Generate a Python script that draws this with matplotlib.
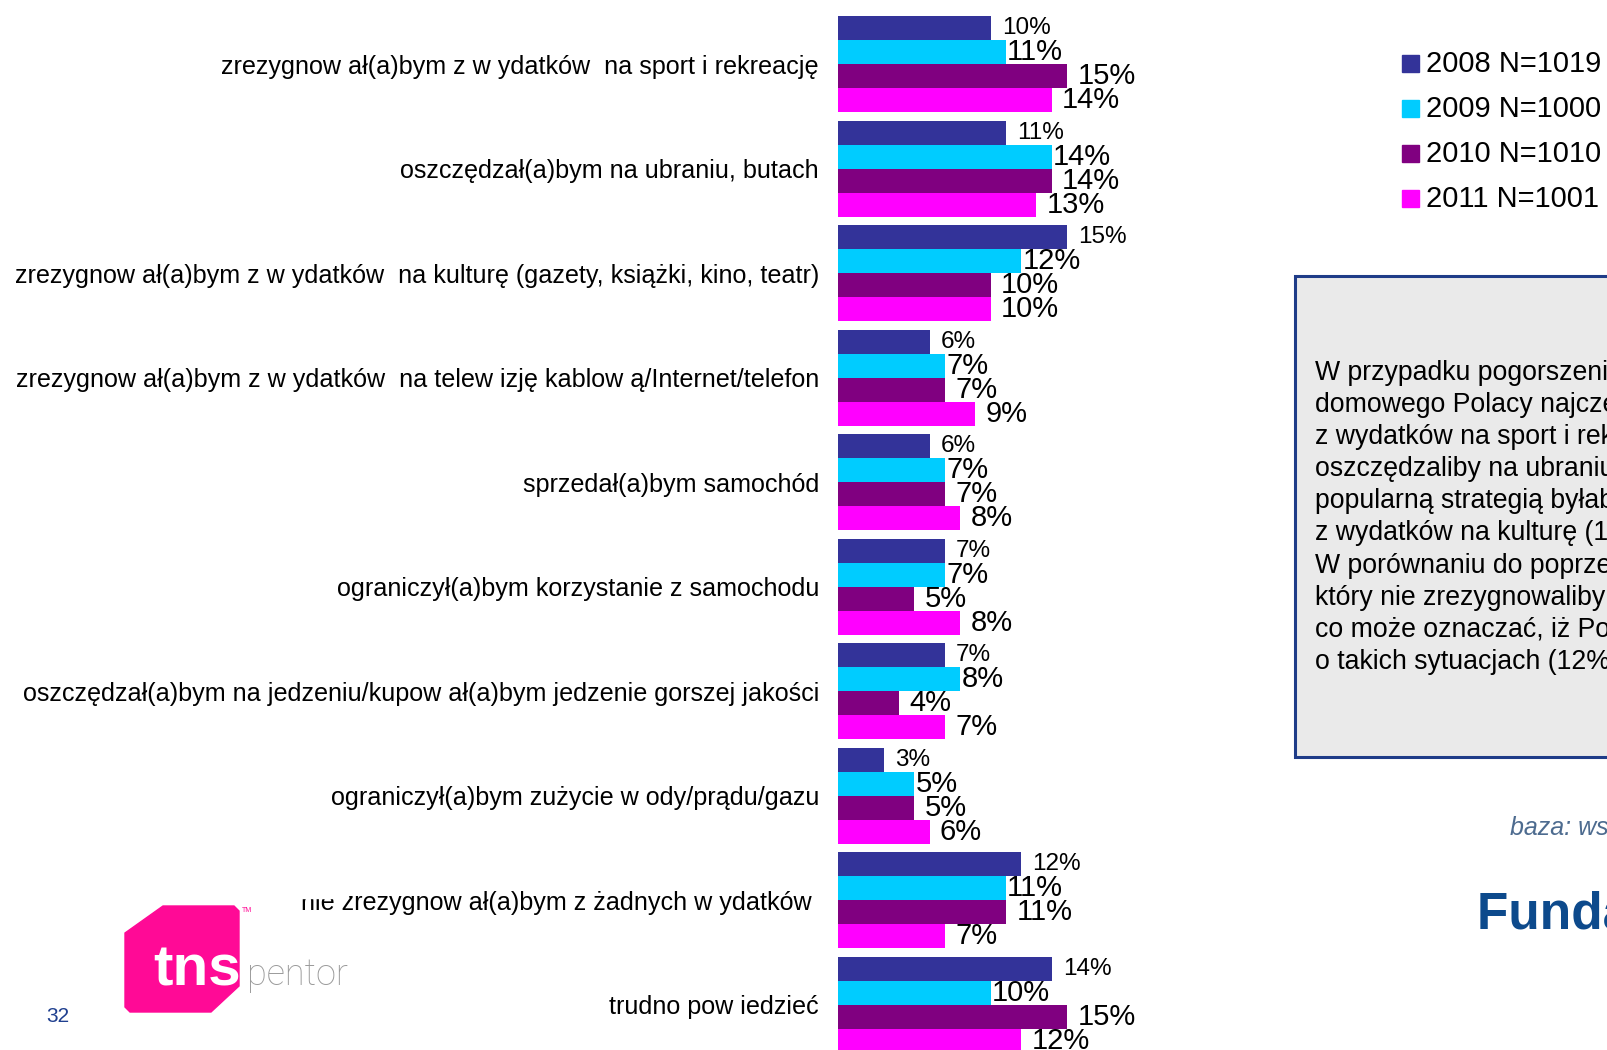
import numpy as np
import matplotlib
matplotlib.use("Agg")
import matplotlib.pyplot as plt
from matplotlib.patches import Rectangle, Polygon
from matplotlib import font_manager

# Answers per year, percent of respondents
categories = [
    "zrezygnow ał(a)bym z w ydatków  na sport i rekreację",
    "oszczędzał(a)bym na ubraniu, butach",
    "zrezygnow ał(a)bym z w ydatków  na kulturę (gazety, książki, kino, teatr)",
    "zrezygnow ał(a)bym z w ydatków  na telew izję kablow ą/Internet/telefon",
    "sprzedał(a)bym samochód",
    "ograniczył(a)bym korzystanie z samochodu",
    "oszczędzał(a)bym na jedzeniu/kupow ał(a)bym jedzenie gorszej jakości",
    "ograniczył(a)bym zużycie w ody/prądu/gazu",
    "nie zrezygnow ał(a)bym z żadnych w ydatków ",
    "trudno pow iedzieć",
]
years = ["2008 N=1019", "2009 N=1000", "2010 N=1010", "2011 N=1001"]
v2008 = [10, 11, 15, 6, 6, 7, 7, 3, 12, 14]
v2009 = [11, 14, 12, 7, 7, 7, 8, 5, 11, 10]
v2010 = [15, 14, 10, 7, 7, 5, 4, 5, 11, 15]
v2011 = [14, 13, 10, 9, 8, 8, 7, 6, 7, 12]

note_lines = [
    "W przypadku pogorszenia",
    "domowego Polacy najczęściej",
    "z wydatków na sport i rekreację",
    "oszczędzaliby na ubraniu",
    "popularną strategią byłaby",
    "z wydatków na kulturę (10%)",
    "W porównaniu do poprzedniego",
    "który nie zrezygnowaliby z",
    "co może oznaczać, iż Polacy",
    "o takich sytuacjach (12%)",
]

colors = ["#333399", "#00ccff", "#800080", "#ff00ff"]

plt.rcParams["font.family"] = ["Liberation Sans", "DejaVu Sans"]
installed = {f.name for f in font_manager.fontManager.ttflist}
narrow = "Liberation Sans Narrow" if "Liberation Sans Narrow" in installed else "Liberation Sans"

W, H = 1608, 1050
fig = plt.figure(figsize=(W / 100, H / 100), dpi=100)


def fx(x):
    return x / W


def fy(y):
    return 1 - y / H


# bar area: 0% at x=838 px, 15.26 px per percent
ax = fig.add_axes([fx(838), 0, 25 * 15.26 / W, 1])
ax.set_xlim(0, 25)
ax.set_ylim(9.4316, -0.6163)

y = np.arange(len(categories))
offsets = [-0.345, -0.115, 0.115, 0.345]
label_sizes = [17.5, 21, 21, 21]
label_pads = [8, 1, 7.5, 7.5]
series = [v2008, v2009, v2010, v2011]

for vals, off, col, fs, pad in zip(series, offsets, colors, label_sizes, label_pads):
    bars = ax.barh(y + off, vals, height=0.23, color=col)
    ax.bar_label(bars, labels=[f"{v}%" for v in vals], padding=pad, fontsize=fs)

ax.set_yticks(y, categories)
ax.tick_params(axis="y", length=0, pad=13.7, labelsize=18.1)
ax.xaxis.set_visible(False)
for s in ax.spines.values():
    s.set_visible(False)

# legend
for k, (name, col) in enumerate(zip(years, colors)):
    yc = 63.6 + 45.1 * k
    fig.add_artist(Rectangle((fx(1402), fy(yc + 8.5)), 17 / W, 17 / H,
                             transform=fig.transFigure, color=col))
    fig.text(fx(1426), fy(yc), name, fontsize=21, va="center", ha="left")

# comment box
fig.add_artist(Rectangle((fx(1295), fy(757)), 400 / W, (757 - 276) / H,
                         transform=fig.transFigure, facecolor="#eaeaea",
                         edgecolor="#1f3c88", linewidth=2.2))
for k, line in enumerate(note_lines):
    fig.text(fx(1315), fy(373 + 32.1 * k), line, fontsize=19.2, va="center", ha="left")

fig.text(fx(1510), fy(828), "baza: wszyscy respondenci", fontsize=18,
         style="italic", color="#4d6b8f", va="center", ha="left")
fig.text(fx(1477), fy(916), "Fundacja Kronenberga", fontsize=37, family=narrow,
         weight="bold", color="#0d4a8c", va="center", ha="left")

# page number
fig.text(fx(58), fy(1016), "32", fontsize=15, color="#1f3f8f", va="center", ha="center")

# tns pentor logo, its white backdrop hides the top of the label above it
fig.add_artist(Rectangle((fx(0), fy(898)), 348 / W, 40 / H,
                         transform=fig.transFigure, color="white", zorder=5))
logo = [(163, 906), (234, 906), (239, 911), (239, 986), (211, 1012),
        (130, 1012), (125, 1007), (125, 933)]
fig.add_artist(Polygon([(fx(a), fy(b)) for a, b in logo], closed=True,
                       transform=fig.transFigure, color="#ff0a96", zorder=6))
fig.text(fx(153), fy(986), "tns", fontsize=42, weight="bold", color="white",
         va="baseline", ha="left", zorder=7)
fig.text(fx(247), fy(985), "pentor", fontsize=26, family=["Roboto", "Liberation Sans"],
         weight="light", color="#9a9a9a", va="baseline", ha="left", zorder=7)
fig.text(fx(242), fy(910), "TM", fontsize=5, color="#ff0a96", va="center", ha="left", zorder=7)

fig.savefig("out.png", dpi=100)
